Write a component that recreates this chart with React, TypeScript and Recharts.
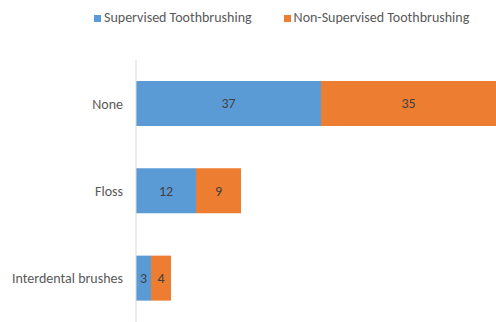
import { BarChart, Bar, XAxis, YAxis, Legend, LabelList } from "recharts";

const categories = ["None", "Floss", "Interdental brushes"];
const supervised = [37, 12, 3];
const nonSupervised = [35, 9, 4];

const SERIES = [
  { key: "supervised", name: "Supervised Toothbrushing", color: "#5B9BD5" },
  { key: "nonSupervised", name: "Non-Supervised Toothbrushing", color: "#ED7D31" },
];

const FONT = "Carlito, 'Open Sans', sans-serif";

const data = categories.map((name, i) => ({
  name,
  supervised: supervised[i],
  nonSupervised: nonSupervised[i],
}));

function ChartLegend() {
  return (
    <div
      style={{
        display: "flex",
        height: 16,
        paddingLeft: 94,
        fontFamily: FONT,
        fontSize: 14,
        lineHeight: "16px",
        color: "#595959",
        whiteSpace: "nowrap",
      }}
    >
      {SERIES.map((s) => (
        <div key={s.key} style={{ display: "flex", alignItems: "center", marginRight: 32, flexShrink: 0 }}>
          <span style={{ width: 7, height: 7, background: s.color, marginRight: 3, display: "inline-block" }} />
          <span>{s.name}</span>
        </div>
      ))}
    </div>
  );
}

export default function App() {
  return (
    <div style={{ position: "absolute", left: 0, top: 0, background: "#fff" }}>
      <BarChart
        width={496}
        height={322}
        data={data}
        layout="vertical"
        margin={{ top: 44, right: 0, bottom: 0, left: 0 }}
        barCategoryGap="24%"
      >
        <XAxis type="number" domain={[0, 72]} hide />
        <YAxis
          type="category"
          dataKey="name"
          width={136}
          tickLine={false}
          tickSize={13}
          tickMargin={0}
          axisLine={{ stroke: "#d9d9d9" }}
          tick={{ fill: "#595959", fontSize: 14, fontFamily: FONT }}
        />
        <Legend
          verticalAlign="top"
          content={() => <ChartLegend />}
          wrapperStyle={{ top: 10, left: 0, width: 496 }}
        />
        {SERIES.map((s) => (
          <Bar key={s.key} dataKey={s.key} name={s.name} stackId="a" fill={s.color} isAnimationActive={false}>
            <LabelList dataKey={s.key} position="center" fill="#404040" fontSize={14} fontFamily={FONT} />
          </Bar>
        ))}
      </BarChart>
    </div>
  );
}
